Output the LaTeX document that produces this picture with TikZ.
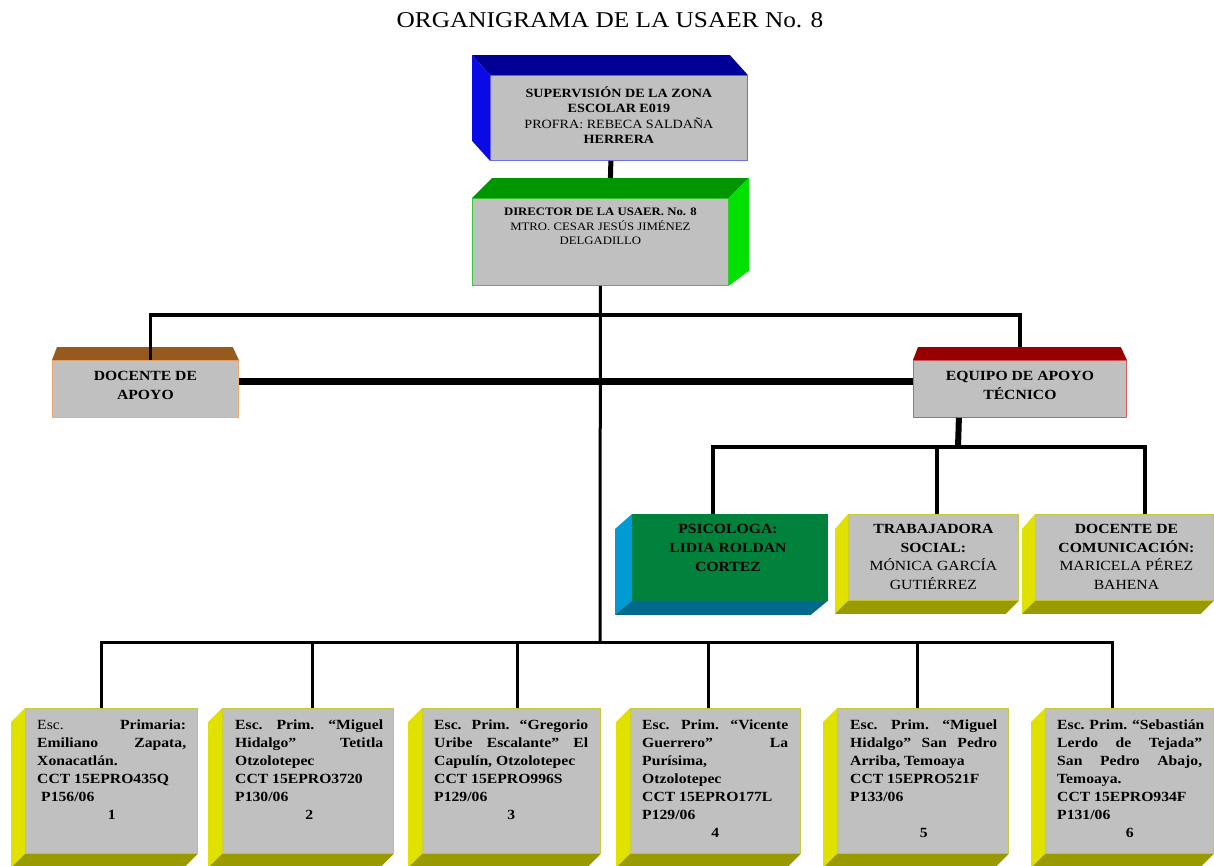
\documentclass[tikz,border=0pt]{standalone}
\usepackage{fontspec}
\setmainfont{Liberation Serif}[FakeStretch=1.12]
\usetikzlibrary{calc}
\definecolor{boxgray}{RGB}{192,192,192}
\definecolor{supTop}{RGB}{0,0,150}
\definecolor{supSide}{RGB}{10,10,230}
\definecolor{supBorder}{RGB}{110,110,240}
\definecolor{dirTop}{RGB}{0,150,0}
\definecolor{dirSide}{RGB}{0,225,0}
\definecolor{dirBorder}{RGB}{60,200,60}
\definecolor{docTop}{RGB}{150,90,30}
\definecolor{docBorder}{RGB}{240,170,110}
\definecolor{eqTop}{RGB}{150,0,0}
\definecolor{eqBorder}{RGB}{220,90,90}
\definecolor{psiFront}{RGB}{0,130,60}
\definecolor{psiSide}{RGB}{0,155,210}
\definecolor{psiBottom}{RGB}{0,105,140}
\definecolor{yelSide}{RGB}{225,225,0}
\definecolor{yelBottom}{RGB}{153,153,0}
\definecolor{yelBorder}{RGB}{200,200,60}
\newcommand{\jline}[2]{\makebox[#1][s]{#2}}
\begin{document}
\begin{tikzpicture}[x=1pt,y=-1pt,
  front/.style={draw, fill=boxgray, line width=0.8pt, inner sep=0, anchor=north west, rectangle},
  ctxt/.style={inner sep=0, anchor=north, align=center},
  btxt/.style={inner sep=0, anchor=north west, align=left, font=\fontsize{14}{18}\selectfont\bfseries},
  wire/.style={line width=#1, black},
]
\useasboundingbox (0,0) rectangle (1214,865);
\fill[white] (0,0) rectangle (1214,865);

% title
\node[inner sep=0, font=\fontsize{22.6}{27}\selectfont] (title) at (610,20) {ORGANIGRAMA DE LA USAER No. 8};

% ---------- front faces ----------
\node[front, draw=supBorder, minimum width=257pt, minimum height=85pt] (sup) at (490,75) {};
\node[front, draw=dirBorder, minimum width=256pt, minimum height=87pt] (dir) at (472,198) {};
\node[front, draw=docBorder, minimum width=186pt, minimum height=57pt] (doc) at (52,360) {};
\node[front, draw=eqBorder, minimum width=213pt, minimum height=57pt] (eq) at (913,360) {};
\node[front, draw=psiFront, fill=psiFront, minimum width=195pt, minimum height=86pt] (psi) at (632,514) {};
\node[front, draw=yelBorder, minimum width=170pt, minimum height=86pt] (tra) at (848,514) {};
\node[front, draw=yelBorder, minimum width=178pt, minimum height=86pt] (com) at (1035,514) {};
\node[front, draw=yelBorder, minimum width=172pt, minimum height=145pt] (s1) at (25,708) {};
\node[front, draw=yelBorder, minimum width=171pt, minimum height=145pt] (s2) at (222,708) {};
\node[front, draw=yelBorder, minimum width=178pt, minimum height=145pt] (s3) at (422,708) {};
\node[front, draw=yelBorder, minimum width=170pt, minimum height=145pt] (s4) at (630,708) {};
\node[front, draw=yelBorder, minimum width=171pt, minimum height=145pt] (s5) at (837,708) {};
\node[front, draw=yelBorder, minimum width=168pt, minimum height=145pt] (s6) at (1045,708) {};

% ---------- 3D faces ----------
% supervision: depth up-left
\fill[supTop] (sup.north west) -- ++(-18,-20) -- ($(sup.north east)+(-18,-20)$) -- (sup.north east) -- cycle;
\fill[supSide] (sup.north west) -- ++(-18,-20) -- ($(sup.south west)+(-18,-20)$) -- (sup.south west) -- cycle;
% director: depth up-right
\fill[dirTop] (dir.north west) -- ++(20,-20) -- ($(dir.north east)+(20,-20)$) -- (dir.north east) -- cycle;
\fill[dirSide] (dir.north east) -- ++(20,-20) -- ($(dir.south east)+(20,-15)$) -- (dir.south east) -- cycle;
% docente / equipo: trapezoid top
\fill[docTop] (doc.north west) -- ++(5,-13) -- ($(doc.north east)+(-6,-13)$) -- (doc.north east) -- cycle;
\fill[eqTop] (eq.north west) -- ++(5,-13) -- ($(eq.north east)+(-6,-13)$) -- (eq.north east) -- cycle;
% psicologa: depth down-left
\fill[psiSide] (psi.north west) -- ++(-17,15) -- ($(psi.south west)+(-17,14)$) -- (psi.south west) -- cycle;
\fill[psiBottom] (psi.south west) -- ++(-17,14) -- ($(psi.south east)+(-17,14)$) -- (psi.south east) -- cycle;
\foreach \b in {tra,com}{
  \fill[yelSide] (\b.north west) -- ++(-13,15) -- ($(\b.south west)+(-13,13)$) -- (\b.south west) -- cycle;
  \fill[yelBottom] (\b.south west) -- ++(-13,13) -- ($(\b.south east)+(-13,13)$) -- (\b.south east) -- cycle;
}
\foreach \b in {s1,s2,s3,s4,s5,s6}{
  \fill[yelSide] (\b.north west) -- ++(-14,14) -- ($(\b.south west)+(-14,14)$) -- (\b.south west) -- cycle;
  \fill[yelBottom] (\b.south west) -- ++(-14,14) -- ($(\b.south east)+(-14,14)$) -- (\b.south east) -- cycle;
}

% ---------- texts ----------
\node[ctxt, font=\fontsize{12.6}{15.5}\selectfont] (supt) at ($(sup.north)+(0,11)$)
  {\textbf{SUPERVISIÓN DE LA ZONA}\\\textbf{ESCOLAR E019}\\PROFRA: REBECA SALDAÑA\\\textbf{HERRERA}};
\node[ctxt, font=\fontsize{11.4}{14.5}\selectfont] (dirt) at ($(dir.north)+(0,10)$)
  {\textbf{DIRECTOR DE LA USAER. No. 8}\\MTRO. CESAR JESÚS JIMÉNEZ\\DELGADILLO};
\node[ctxt, font=\fontsize{14}{19}\selectfont\bfseries] (doct) at ($(doc.north)+(0,11)$) {DOCENTE DE\\APOYO};
\node[ctxt, font=\fontsize{14}{19}\selectfont\bfseries] (eqt) at ($(eq.north)+(0,11)$) {EQUIPO DE APOYO\\TÉCNICO};
\node[ctxt, font=\fontsize{14}{19}\selectfont\bfseries] (psit) at ($(psi.north)+(-2,10)$) {PSICOLOGA:\\LIDIA ROLDAN\\CORTEZ};
\node[ctxt, font=\fontsize{14}{18.7}\selectfont] (trat) at ($(tra.north)+(0,10)$) {\textbf{TRABAJADORA}\\\textbf{SOCIAL:}\\MÓNICA GARCÍA\\GUTIÉRREZ};
\node[ctxt, font=\fontsize{14}{18.7}\selectfont] (comt) at ($(com.north)+(2,10)$) {\textbf{DOCENTE DE}\\\textbf{COMUNICACIÓN:}\\MARICELA PÉREZ\\BAHENA};

\node[btxt] (s1t) at ($(s1.north west)+(12,12)$)
  {\jline{149pt}{\mdseries Esc. \bfseries Primaria:}\\\jline{149pt}{Emiliano Zapata,}\\Xonacatlán.\\CCT 15EPRO435Q\\\hspace*{4pt}P156/06\\\makebox[149pt]{1}};
\node[btxt] (s2t) at ($(s2.north west)+(13,12)$)
  {\jline{148pt}{Esc. Prim. “Miguel}\\\jline{148pt}{Hidalgo” Tetitla}\\Otzolotepec\\CCT 15EPRO3720\\P130/06\\\makebox[148pt]{2}};
\node[btxt] (s3t) at ($(s3.north west)+(12,12)$)
  {\jline{154pt}{Esc. Prim. “Gregorio}\\\jline{154pt}{Uribe Escalante” El}\\Capulín, Otzolotepec\\CCT 15EPRO996S\\P129/06\\\makebox[154pt]{3}};
\node[btxt] (s4t) at ($(s4.north west)+(12,12)$)
  {\jline{146pt}{Esc. Prim. “Vicente}\\\jline{146pt}{Guerrero” La}\\Purísima,\\Otzolotepec\\CCT 15EPRO177L\\P129/06\\\makebox[146pt]{4}};
\node[btxt] (s5t) at ($(s5.north west)+(13,12)$)
  {\jline{147pt}{Esc. Prim. “Miguel}\\\jline{147pt}{Hidalgo” San Pedro}\\Arriba, Temoaya\\CCT 15EPRO521F\\P133/06\\\strut\\\makebox[147pt]{5}};
\node[btxt] (s6t) at ($(s6.north west)+(12,12)$)
  {\jline{145pt}{Esc. Prim. “Sebastián}\\\jline{145pt}{Lerdo de Tejada”}\\\jline{145pt}{San Pedro Abajo,}\\Temoaya.\\CCT 15EPRO934F\\P131/06\\\makebox[145pt]{6}};

% ---------- connectors ----------
\coordinate (busA) at (600,315);
\coordinate (busB) at (600,642);
\coordinate (busC) at (958,447);

\draw[wire=5pt] ($(sup.south)+(-8,0)$) -- ($(dir.north)+(10,-20)$);
\draw[wire=3pt] (dir.south) -- (busB);
\draw[wire=3.5pt] ($(doc.north)+(5,0)$) |- (busA) -| ($(eq.north)+(0,-13)$);
\draw[wire=7pt] ($(doc.east)+(0,-7)$) -- ($(eq.west)+(0,-7)$);
\draw[wire=6pt] ($(eq.south)+(-61,0)$) -- (busC);
\draw[wire=4pt] ($(psi.north)+(-16.5,0)$) |- (busC) -| ($(com.north)+(21,0)$);
\draw[wire=4pt] ($(tra.north)+(4,0)$) -- ($(tra.north)+(4,-67)$);
\draw[wire=3pt] ($(s1.north)+(-10,0)$) |- (busB) -| ($(s6.north)+(-17,0)$);
\draw[wire=3pt] ($(s2.north)+(5,0)$) -- ($(s2.north)+(5,-66)$);
\draw[wire=3pt] ($(s3.north)+(6,0)$) -- ($(s3.north)+(6,-66)$);
\draw[wire=3pt] ($(s4.north)+(-7,0)$) -- ($(s4.north)+(-7,-66)$);
\draw[wire=3pt] ($(s5.north)+(-5,0)$) -- ($(s5.north)+(-5,-66)$);
\end{tikzpicture}
\end{document}
